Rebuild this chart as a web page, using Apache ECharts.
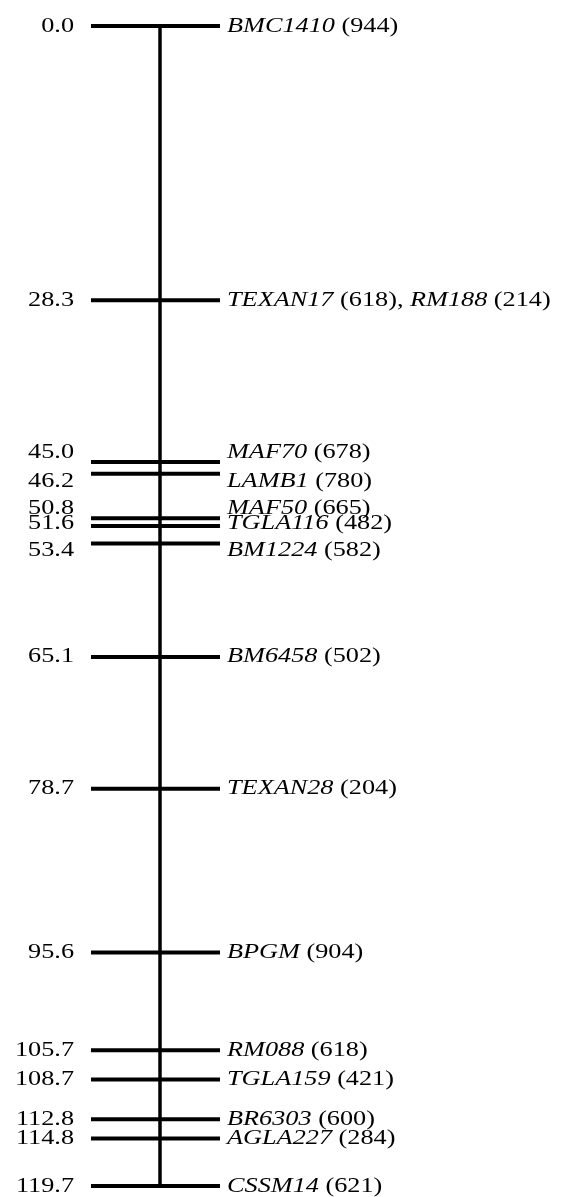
<!DOCTYPE html>
<html>
<head>
<meta charset="utf-8">
<script src="https://cdn.jsdelivr.net/npm/echarts@6/dist/echarts.min.js"></script>
<style>html,body{margin:0;padding:0;background:#fff}#c{width:563px;height:1197px}</style>
</head>
<body>
<div id="c"></div>
<script>
// Map positions (cM) and markers
const positions = [0.0, 28.3, 45.0, 46.2, 50.8, 51.6, 53.4, 65.1, 78.7, 95.6, 105.7, 108.7, 112.8, 114.8, 119.7];
const positionLabels = ['0.0', '28.3', '45.0', '46.2', '50.8', '51.6', '53.4', '65.1', '78.7', '95.6', '105.7', '108.7', '112.8', '114.8', '119.7'];
const markerNames = [['BMC1410'], ['TEXAN17', 'RM188'], ['MAF70'], ['LAMB1'], ['MAF50'], ['TGLA116'], ['BM1224'], ['BM6458'], ['TEXAN28'], ['BPGM'], ['RM088'], ['TGLA159'], ['BR6303'], ['AGLA227'], ['CSSM14']];
const markerCounts = [[944], [618, 214], [678], [780], [665], [482], [582], [502], [204], [904], [618], [421], [600], [284], [621]];

// layout: vertical label nudges (px) to separate crowded labels
const labelNudge = [0, 0, -10, 8, -10, -3, 7, 0, 0, 0, 0, 0, 0, 0, 0];

const FONT = '"Liberation Serif", "Times New Roman", serif';
const FS = 21;
const SX = 1.25;

function rightText(i) {
  return markerNames[i].map((n, k) =>
    '{i|' + n + '}{r| (' + markerCounts[i][k] + ')' + (k < markerNames[i].length - 1 ? ', ' : '') + '}'
  ).join('');
}

const chart = echarts.init(document.getElementById('c'), null, {renderer: 'canvas'});
chart.setOption({
  animation: false,
  backgroundColor: '#ffffff',
  grid: {left: 0, width: 320, top: 26, bottom: 11},
  xAxis: {type: 'value', min: -1, max: 1, show: false},
  yAxis: {type: 'value', min: 0, max: 119.7, inverse: true, show: false},
  series: [
    {
      type: 'line',
      data: [[0, positions[0]], [0, positions[positions.length - 1]]],
      symbol: 'none',
      silent: true,
      lineStyle: {color: '#000', width: 3.5},
      z: 3
    },
    {
      type: 'custom',
      silent: true,
      data: positions.map((v, i) => [0, v, i]),
      renderItem: function (params, api) {
        const i = api.value(2);
        const c = api.coord([0, api.value(1)]);
        const ly = c[1] + labelNudge[i];
        return {
          type: 'group',
          children: [
            {
              type: 'line',
              shape: {x1: c[0] - 69, y1: c[1], x2: c[0] + 60, y2: c[1]},
              style: {stroke: '#000', lineWidth: 4}
            },
            {
              type: 'text',
              x: c[0] - 86, y: ly, scaleX: SX,
              style: {
                text: positionLabels[i],
                fontFamily: FONT, fontSize: FS, fill: '#000',
                align: 'right', verticalAlign: 'middle'
              }
            },
            {
              type: 'text',
              x: c[0] + 67, y: ly, scaleX: SX,
              style: {
                text: rightText(i),
                align: 'left', verticalAlign: 'middle',
                rich: {
                  i: {fontFamily: FONT, fontSize: FS, fontStyle: 'italic', fill: '#000'},
                  r: {fontFamily: FONT, fontSize: FS, fill: '#000'}
                }
              }
            }
          ]
        };
      },
      z: 4
    }
  ]
});
</script>
</body>
</html>
